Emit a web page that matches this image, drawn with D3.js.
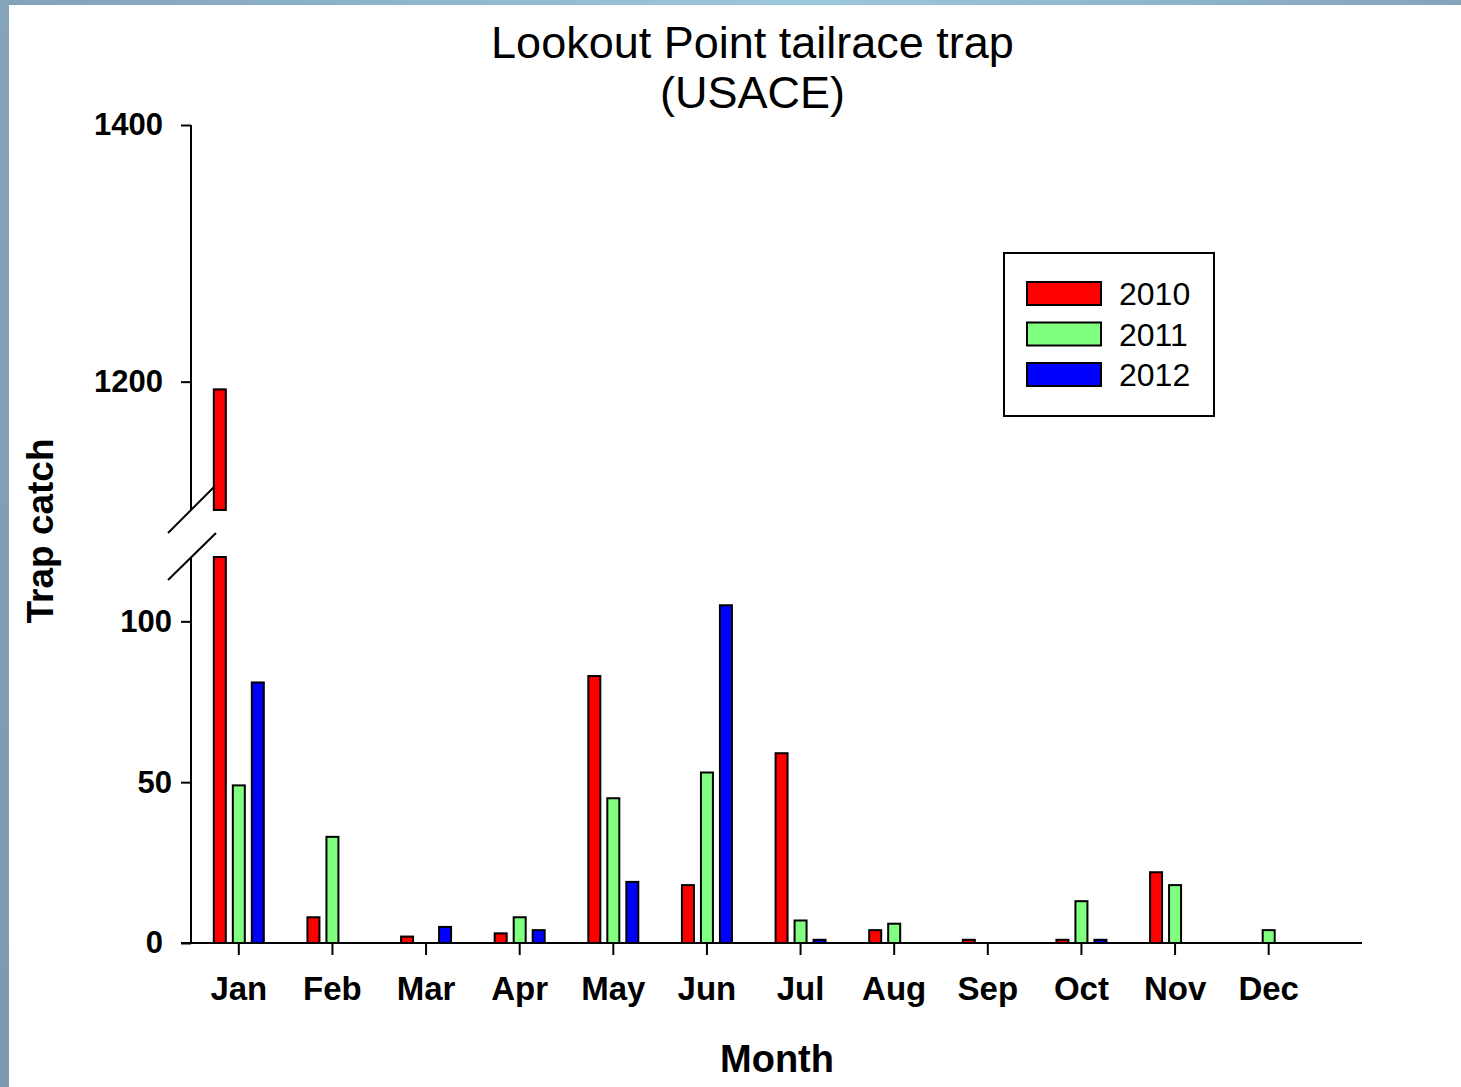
<!DOCTYPE html>
<html><head><meta charset="utf-8">
<script src="https://cdn.jsdelivr.net/npm/d3@7"></script>
<style>html,body{margin:0;padding:0;overflow:hidden;background:#fff}</style>
</head><body>
<svg id="c" width="1461" height="1087"></svg>
<script>
const months = ["Jan","Feb","Mar","Apr","May","Jun","Jul","Aug","Sep","Oct","Nov","Dec"];
const years = ["2010","2011","2012"];
const v2010 = [1194, 8, 2, 3, 83, 18, 59, 4, 1, 1, 22, 0];
const v2011 = [49, 33, 0, 8, 45, 53, 7, 6, 0, 13, 18, 4];
const v2012 = [81, 0, 5, 4, 19, 105, 1, 0, 0, 1, 0, 0];
const lowTicks = [0, 50, 100];
const highTicks = [1200, 1400];
const colors = ["#ff0000", "#80ff80", "#0000ff"];
const series = [v2010, v2011, v2012];

const svg = d3.select("#c");
const defs = svg.append("defs");
const g = defs.append("linearGradient").attr("id","bg").attr("x1","0").attr("x2","1").attr("y1","0").attr("y2","0");
g.append("stop").attr("offset","0").attr("stop-color","#82a2b8");
g.append("stop").attr("offset","0.55").attr("stop-color","#9cc8dc");
g.append("stop").attr("offset","1").attr("stop-color","#84a4ba");
svg.append("rect").attr("width",1461).attr("height",1087).attr("fill","url(#bg)");
const lg = defs.append("linearGradient").attr("id","bgl").attr("x1","0").attr("x2","0").attr("y1","0").attr("y2","1");
lg.append("stop").attr("offset","0").attr("stop-color","#84a4ba");
lg.append("stop").attr("offset","1").attr("stop-color","#7d99ae");
svg.append("rect").attr("x",0).attr("y",0).attr("width",9).attr("height",1087).attr("fill","url(#bgl)");
svg.append("rect").attr("x",9).attr("y",5).attr("width",1452).attr("height",1082).attr("fill","#fff");

const font = "Liberation Sans, Arial, Helvetica, sans-serif";

const x = d3.scaleBand().domain(months).range([192, 1315.5]).padding(0);
const yLow = d3.scaleLinear().domain([0, 120]).range([943, 557]);
const yHigh = d3.scaleLinear().domain([1100, 1400]).range([510, 125]);
const offsets = [-19, 0, 19];
const bw = 12;

// bars
series.forEach((vals, si) => {
  vals.forEach((v, mi) => {
    if (v <= 0) return;
    const cx = x(months[mi]) + x.bandwidth()/2 + offsets[si];
    const top = v > 120 ? 120 : v;
    svg.append("rect").attr("x", cx - bw/2).attr("y", yLow(top))
      .attr("width", bw).attr("height", yLow(0) - yLow(top))
      .attr("fill", colors[si]).attr("stroke", "#000").attr("stroke-width", 2);
    if (v > 1100) {
      svg.append("rect").attr("x", cx - bw/2).attr("y", yHigh(v))
        .attr("width", bw).attr("height", yHigh(1100) - yHigh(v))
        .attr("fill", colors[si]).attr("stroke", "#000").attr("stroke-width", 2);
    }
  });
});

// y axes
const axX = 191;
const yAxLow = svg.append("g").attr("transform", `translate(${axX},0)`)
  .call(d3.axisLeft(yLow).tickValues(lowTicks).tickSize(10).tickPadding(9).tickFormat(d3.format("d")));
const yAxHigh = svg.append("g").attr("transform", `translate(${axX},0)`)
  .call(d3.axisLeft(yHigh).tickValues(highTicks).tickSize(10).tickPadding(18).tickFormat(d3.format("d")));
[yAxLow, yAxHigh].forEach(a => {
  a.select(".domain").remove();
  a.selectAll("line").attr("stroke", "#000").attr("stroke-width", 2);
  a.selectAll("text").attr("font-family", font).attr("font-weight", "bold").attr("font-size", 31).attr("fill", "#000");
});
yAxLow.selectAll(".tick").filter(d => d === 0).select("text").attr("x", -28);
svg.append("line").attr("x1", axX).attr("x2", axX).attr("y1", yHigh(1400)).attr("y2", yHigh(1100) ).attr("stroke","#000").attr("stroke-width",2);
svg.append("line").attr("x1", axX).attr("x2", axX).attr("y1", yLow(120)).attr("y2", yLow(0)).attr("stroke","#000").attr("stroke-width",2);
// break marks
svg.append("line").attr("x1",168).attr("y1",533).attr("x2",214).attr("y2",487).attr("stroke","#000").attr("stroke-width",2);
svg.append("line").attr("x1",168).attr("y1",580).attr("x2",216).attr("y2",533).attr("stroke","#000").attr("stroke-width",2);

// x axis
const xAx = svg.append("g").attr("transform", `translate(0,${yLow(0)})`)
  .call(d3.axisBottom(x).tickSize(12).tickPadding(22));
xAx.select(".domain").remove();
xAx.selectAll("line").attr("stroke","#000").attr("stroke-width",2);
xAx.selectAll("text").attr("font-family", font).attr("font-weight","bold").attr("font-size",33).attr("fill","#000");
svg.append("line").attr("x1",181).attr("x2",1362).attr("y1",yLow(0)).attr("y2",yLow(0)).attr("stroke","#000").attr("stroke-width",2);

// titles
svg.append("text").attr("x",752.5).attr("y",58).attr("text-anchor","middle").attr("font-family",font).attr("font-size",45).text("Lookout Point tailrace trap");
svg.append("text").attr("x",752.5).attr("y",108).attr("text-anchor","middle").attr("font-family",font).attr("font-size",45).text("(USACE)");
svg.append("text").attr("x",777).attr("y",1072).attr("text-anchor","middle").attr("font-family",font).attr("font-weight","bold").attr("font-size",38).text("Month");
svg.append("text").attr("transform","translate(53,531) rotate(-90)").attr("text-anchor","middle").attr("font-family",font).attr("font-weight","bold").attr("font-size",37).text("Trap catch");

// legend
svg.append("rect").attr("x",1004).attr("y",253).attr("width",210).attr("height",163).attr("fill","#fff").attr("stroke","#000").attr("stroke-width",2);
years.forEach((yr, i) => {
  const yy = 282 + i * 40.5;
  svg.append("rect").attr("x",1027).attr("y",yy).attr("width",74).attr("height",23).attr("fill",colors[i]).attr("stroke","#000").attr("stroke-width",2);
  svg.append("text").attr("x",1119).attr("y",yy+23).attr("font-family",font).attr("font-size",32).text(yr);
});
</script>
</body></html>
